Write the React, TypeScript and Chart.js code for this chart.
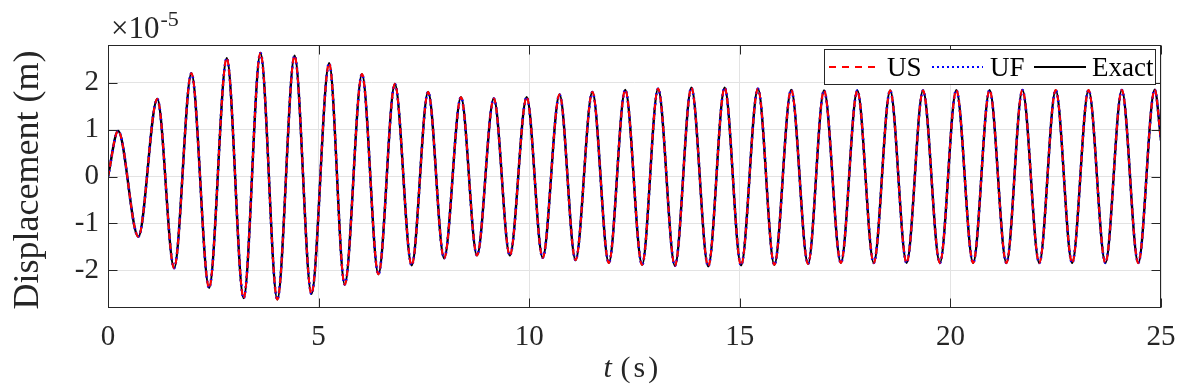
import React, { useEffect, useRef } from "react";
import { Chart, registerables } from "chart.js";

Chart.register(...registerables);

// time (s) of the start, each extremum and the end of the record
const timeS = [
  0, 0.24, 0.72, 1.17, 1.57, 1.98, 2.4, 2.82, 3.22, 3.62, 4.02, 4.43, 4.83, 5.25, 5.62,
  6.03, 6.42, 6.81, 7.21, 7.6, 7.98, 8.38, 8.76, 9.16, 9.54, 9.94, 10.32, 10.72, 11.1,
  11.5, 11.89, 12.28, 12.68, 13.06, 13.46, 13.85, 14.25, 14.64, 15.03, 15.43, 15.82,
  16.22, 16.62, 17.0, 17.4, 17.79, 18.18, 18.57, 18.96, 19.35, 19.75, 20.14, 20.54,
  20.93, 21.33, 21.71, 22.11, 22.5, 22.89, 23.28, 23.68, 24.07, 24.46, 24.85, 25.0,
];

// displacement in units of 1e-5 m (Exact solution)
const exactDisp = [
  0, 0.97, -1.28, 1.65, -1.95, 2.2, -2.37, 2.52, -2.59, 2.63, -2.62, 2.57, -2.5, 2.41, -2.3,
  2.18, -2.08, 1.97, -1.89, 1.8, -1.74, 1.69, -1.68, 1.66, -1.68, 1.69, -1.73, 1.745, -1.78,
  1.8, -1.84, 1.845, -1.88, 1.87, -1.9, 1.89, -1.91, 1.89, -1.89, 1.87, -1.88,
  1.845, -1.86, 1.83, -1.84, 1.83, -1.84, 1.83, -1.84, 1.83, -1.84, 1.84, -1.84,
  1.84, -1.84, 1.84, -1.84, 1.84, -1.84, 1.84, -1.84, 1.84, -1.84, 1.85, 0.77,
];

// US and UF curves coincide with the exact one at this scale
const usDisp = exactDisp;
const ufDisp = exactDisp;

const seriesLabels = ["US", "UF", "Exact"];
const xTicks = [0, 5, 10, 15, 20, 25];
const yTicks = [-2, -1, 0, 1, 2];

const FONT = '"Liberation Serif", "Times New Roman", Times, serif';
const INK = "#262626";

const toPoints = (vals: number[]) => timeS.map((t, i) => ({ x: t, y: vals[i] }));

const decor = {
  id: "matlabDecor",
  afterDraw(chart: any) {
    const { ctx, chartArea: a, scales } = chart;
    const xs = scales.x;
    const ys = scales.y;
    ctx.save();
    // frame
    ctx.strokeStyle = INK;
    ctx.lineWidth = 1;
    const L = Math.round(a.left) + 0.5;
    const T = Math.round(a.top) + 0.5;
    const R = Math.round(a.right) - 0.5;
    const B = Math.round(a.bottom) - 0.5;
    ctx.strokeRect(L, T, R - L, B - T);
    // inward ticks
    const TL = 9;
    ctx.beginPath();
    for (const v of xTicks) {
      const px = Math.round(xs.getPixelForValue(v)) + 0.5;
      ctx.moveTo(px, B);
      ctx.lineTo(px, B - TL);
      ctx.moveTo(px, T);
      ctx.lineTo(px, T + TL);
    }
    for (const v of yTicks) {
      const py = Math.round(ys.getPixelForValue(v)) + 0.5;
      ctx.moveTo(L, py);
      ctx.lineTo(L + TL, py);
      ctx.moveTo(R, py);
      ctx.lineTo(R - TL, py);
    }
    ctx.stroke();

    // exponent label
    ctx.fillStyle = INK;
    ctx.textAlign = "left";
    ctx.textBaseline = "alphabetic";
    ctx.font = `31px ${FONT}`;
    ctx.fillText("×10", a.left + 3, 38);
    const w10 = ctx.measureText("×10").width;
    ctx.font = `22px ${FONT}`;
    ctx.fillText("-5", a.left + 3 + w10 + 1, 26);

    // x title: t (s)
    const cx = (a.left + a.right) / 2;
    ctx.font = `italic 30px ${FONT}`;
    ctx.fillText("t", cx - 31, 377);
    ctx.font = `30px ${FONT}`;
    (ctx as any).letterSpacing = "3px";
    ctx.fillText("(s)", cx - 14, 377);
    (ctx as any).letterSpacing = "0px";

    // y title
    ctx.save();
    ctx.translate(38, 180);
    ctx.rotate(-Math.PI / 2);
    ctx.textAlign = "center";
    ctx.font = `36px ${FONT}`;
    ctx.fillText("Displacement (m)", 0, 0);
    ctx.restore();

    // legend
    const lx = 824.5, ly = 49.5, lw = 331, lh = 35;
    ctx.fillStyle = "#ffffff";
    ctx.fillRect(lx, ly, lw, lh);
    ctx.strokeStyle = INK;
    ctx.lineWidth = 1;
    ctx.strokeRect(lx, ly, lw, lh);
    const items = [
      { color: "#ff0000", dash: [7, 6], x0: 829, x1: 880, tx: 887, width: 2 },
      { color: "#0000ff", dash: [2, 3], x0: 932, x1: 983, tx: 990, width: 2 },
      { color: "#000000", dash: [], x0: 1034, x1: 1086, tx: 1092, width: 2 },
    ];
    items.forEach((it, i) => {
      ctx.strokeStyle = it.color;
      ctx.lineWidth = it.width;
      ctx.setLineDash(it.dash);
      ctx.beginPath();
      ctx.moveTo(it.x0, 67);
      ctx.lineTo(it.x1, 67);
      ctx.stroke();
      ctx.setLineDash([]);
      ctx.fillStyle = "#000000";
      ctx.font = `27px ${FONT}`;
      ctx.textAlign = "left";
      ctx.fillText(seriesLabels[i], it.tx, 76);
    });
    ctx.restore();
  },
};

export default function App() {
  const ref = useRef<HTMLCanvasElement | null>(null);
  useEffect(() => {
    if (!ref.current) return;
    const chart = new Chart(ref.current, {
      type: "line",
      data: {
        datasets: [
          {
            label: seriesLabels[0],
            data: toPoints(usDisp),
            borderColor: "#ff0000",
            borderDash: [6, 4],
            borderWidth: 2,
            pointRadius: 0,
            cubicInterpolationMode: "monotone",
            fill: false,
          },
          {
            label: seriesLabels[1],
            data: toPoints(ufDisp),
            borderColor: "#0000ff",
            borderDash: [2, 3],
            borderWidth: 2.6,
            pointRadius: 0,
            cubicInterpolationMode: "monotone",
            fill: false,
          },
          {
            label: seriesLabels[2],
            data: toPoints(exactDisp),
            borderColor: "#000000",
            borderWidth: 2.4,
            pointRadius: 0,
            cubicInterpolationMode: "monotone",
            fill: false,
          },
        ],
      },
      options: {
        animation: false,
        responsive: false,
        layout: { padding: { left: 0, top: 45, right: 35, bottom: 0 } },
        plugins: {
          legend: { display: false },
          tooltip: { enabled: false },
        },
        scales: {
          x: {
            type: "linear",
            min: 0,
            max: 25,
            afterBuildTicks: (s: any) => {
              s.ticks = xTicks.map((v) => ({ value: v }));
            },
            afterFit: (s: any) => {
              s.height = 82;
            },
            grid: { color: "#e3e3e3", lineWidth: 1, drawTicks: false },
            border: { display: false },
            ticks: {
              color: INK,
              font: { family: FONT, size: 29 },
              padding: 12,
              maxRotation: 0,
              autoSkip: false,
            },
          },
          y: {
            type: "linear",
            min: -2.8,
            max: 2.8,
            afterBuildTicks: (s: any) => {
              s.ticks = yTicks.map((v) => ({ value: v }));
            },
            afterFit: (s: any) => {
              s.width = 108;
            },
            grid: { color: "#e3e3e3", lineWidth: 1, drawTicks: false },
            border: { display: false },
            ticks: {
              color: INK,
              font: { family: FONT, size: 29 },
              padding: 9,
              autoSkip: false,
            },
          },
        },
      },
      plugins: [decor],
    } as any);
    return () => chart.destroy();
  }, []);
  return (
    <div style={{ position: "fixed", left: 0, top: 0, width: 1196, height: 390, background: "#fff" }}>
      <canvas ref={ref} width={1196} height={390} style={{ display: "block" }} />
    </div>
  );
}
